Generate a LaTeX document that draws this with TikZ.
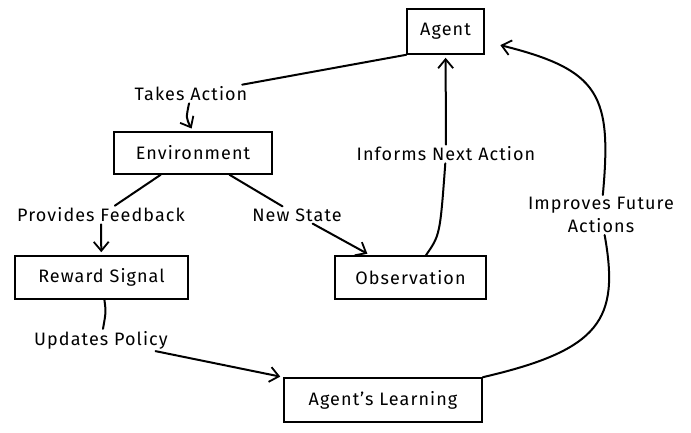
\documentclass[tikz,border=0pt]{standalone}
\usepackage{fontspec}
\setmainfont{Fira Sans}[LetterSpace=6]
\usepackage{tikz}
\usetikzlibrary{arrows.meta}

\begin{document}
\begin{tikzpicture}[x=1pt, y=-1pt,
    box/.style={draw, line width=1.6pt, inner sep=0pt, font=\fontsize{18}{23}\selectfont},
    lbl/.style={inner sep=2pt, font=\fontsize{18}{23}\selectfont, align=center},
    link/.style={line width=2pt, line cap=round},
    flow/.style={link, -{Straight Barb[length=9pt, width=15pt, line width=1.8pt]}, shorten >=3pt}]
  \useasboundingbox (0,0) rectangle (691,433);

  % Boxes
  \node[box, minimum width=77pt, minimum height=45pt] (agent) at (445.5,31.5) {Agent};
  \node[box, minimum width=158pt, minimum height=42pt] (env) at (193,153) {Environment};
  \node[box, minimum width=173pt, minimum height=43pt] (rew) at (101.5,277.5) {Reward Signal};
  \node[box, minimum width=151pt, minimum height=43pt] (obs) at (410.5,277.5) {Observation};
  \node[box, minimum width=198pt, minimum height=44pt] (learn) at (383,400) {Agent's Learning};

  % Edge labels
  \node[lbl] (lbTake) at (191,94) {Takes Action};
  \node[lbl] (lbInform) at (446,154) {Informs Next Action};
  \node[lbl] (lbFeed) at (101,215) {Provides Feedback};
  \node[lbl] (lbState) at (297,215) {New State};
  \node[lbl] (lbImprove) at (601,215) {Improves Future\\Actions};
  \node[lbl] (lbUpdate) at (101,340) {Updates Policy};

  % Agent -> Environment
  \draw[link] (agent.south west) -- (lbTake);
  \draw[flow] (lbTake) .. controls (186,118) .. (env.north);

  % Environment -> Reward Signal / Observation
  \draw[link] (env) -- (lbFeed);
  \draw[flow] (lbFeed) -- (rew);
  \draw[link] (env) -- (lbState);
  \draw[flow] (lbState) -- (obs);

  % Observation -> Agent
  \draw[link] (obs) .. controls (440,235) .. (lbInform);
  \draw[flow] (lbInform) -- (agent);

  % Reward Signal -> Agent's Learning
  \draw[link] (rew) .. controls (106,312) .. (lbUpdate);
  \draw[flow] (lbUpdate) -- (learn.north west);

  % Agent's Learning -> Agent
  \draw[link] (learn.north east) .. controls (600,350) and (620,320) .. (lbImprove);
  \draw[flow, shorten >=16pt] (lbImprove) .. controls (612,95) and (600,70) .. (agent);
\end{tikzpicture}
\end{document}
